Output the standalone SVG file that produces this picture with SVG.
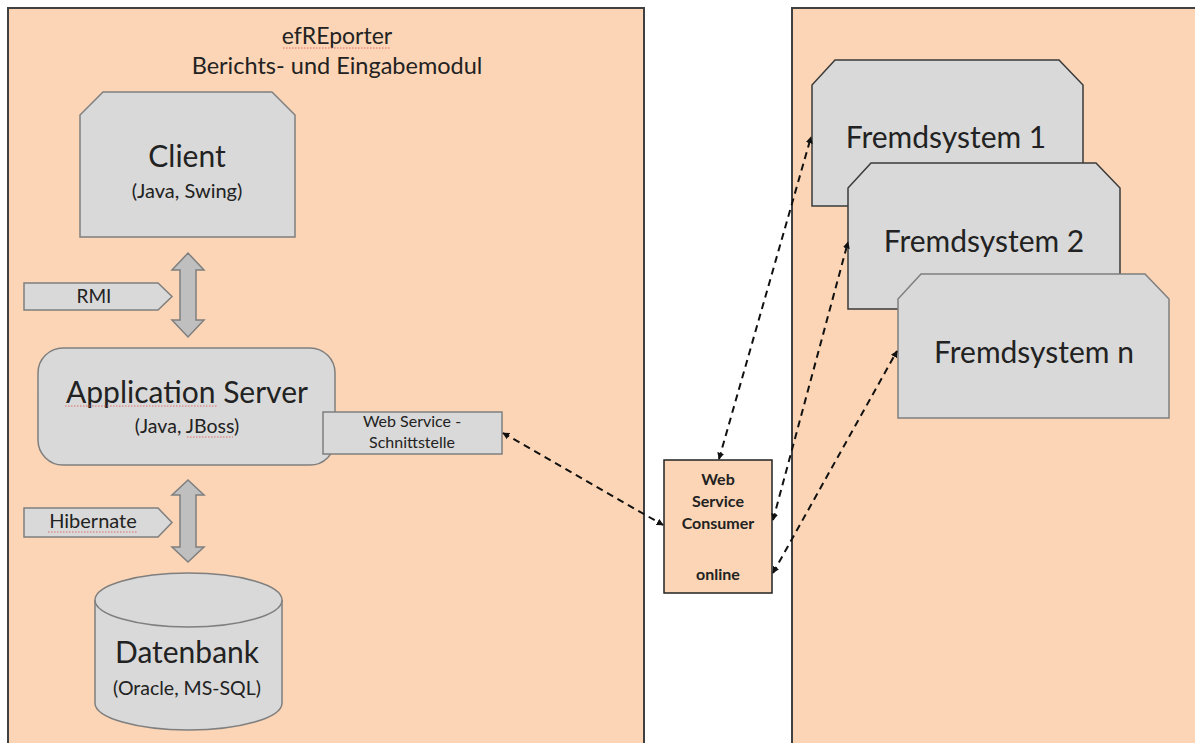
<svg xmlns="http://www.w3.org/2000/svg" width="1195" height="743" viewBox="0 0 1195 743">
<defs>
<style>
.panel{fill:#fbd5b5;stroke:#404040;stroke-width:2}
.node{fill:#d9d9d9;stroke:#7f7f7f;stroke-width:1.5}
.dark{stroke:#3a3a3a}
.t{font-family:Lato,"Liberation Sans",sans-serif;fill:#222222;text-anchor:middle}
.b{font-weight:bold}
.conn{fill:none;stroke:#111;stroke-width:2;stroke-dasharray:7,5}
.dbl{fill:#bfbfbf;stroke:#7f7f7f;stroke-width:1.5}
.sq{fill:none;stroke:#e05050;stroke-width:0.8;stroke-dasharray:1.5,1.5}
</style>
<marker id="ah" viewBox="0 0 10 10" refX="9" refY="5" markerWidth="7" markerHeight="7" orient="auto-start-reverse" markerUnits="userSpaceOnUse">
<path d="M0,0 L10,5 L0,10 Z" fill="#111"/>
</marker>
</defs>
<rect width="1195" height="743" fill="#ffffff"/>
<g id="panel-left">
<rect class="panel" x="8" y="8" width="636" height="745"/>
<text class="t" x="337" y="44" font-size="23">efREporter</text>
<path class="sq" d="M283,48 L391,48"/>
<text class="t" x="337" y="74" font-size="23.5">Berichts- und Eingabemodul</text>
</g>
<g id="panel-right">
<rect class="panel" x="792" y="8" width="420" height="745"/>
</g>
<g id="client">
<path class="node" d="M103,92 L272,92 L295,115 L295,237 L80,237 L80,115 Z"/>
<text class="t" x="187" y="167" font-size="30">Client</text>
<text class="t" x="187" y="198" font-size="20">(Java, Swing)</text>
</g>
<g id="rmi">
<path class="node" d="M24,283 L158,283 L172,296.5 L158,310 L24,310 Z"/>
<text class="t" x="94" y="303" font-size="19">RMI</text>
</g>
<g id="appserver">
<rect class="node" x="38" y="348" width="297" height="117" rx="25" ry="25"/>
<text class="t" x="187" y="403" font-size="30">Application Server</text>
<path class="sq" d="M65,406 L218,406"/>
<text class="t" x="187" y="433" font-size="19.5">(Java, JBoss)</text>
<path class="sq" d="M187,437 L233,437"/>
</g>
<g id="ws-schnittstelle">
<rect class="node" x="323" y="412" width="179" height="42"/>
<text class="t" x="412" y="427" font-size="16">Web Service -</text>
<text class="t" x="412" y="448" font-size="16">Schnittstelle</text>
</g>
<g id="hibernate">
<path class="node" d="M24,508 L158,508 L172,522.5 L158,537 L24,537 Z"/>
<text class="t" x="93" y="528" font-size="20">Hibernate</text>
<path class="sq" d="M48,532 L138,532"/>
</g>
<g id="datenbank">
<path class="node" d="M95,600 L95,703 A93.5,27 0 0 0 282,703 L282,600"/>
<ellipse class="node" cx="188.5" cy="600" rx="93.5" ry="27"/>
<text class="t" x="187" y="663" font-size="30">Datenbank</text>
<text class="t" x="187" y="695" font-size="19.5">(Oracle, MS-SQL)</text>
</g>
<g id="ws-consumer">
<rect x="664" y="460" width="108" height="133" fill="#fbd5b5" stroke="#222" stroke-width="1.5"/>
<text class="t b" x="718" y="485" font-size="16">Web</text>
<text class="t b" x="718" y="507" font-size="16">Service</text>
<text class="t b" x="718" y="529" font-size="16">Consumer</text>
<text class="t b" x="718" y="580" font-size="16">online</text>
</g>
<g id="fremdsystem-1">
<path class="node dark" d="M835,60 L1059,60 L1083,85 L1083,206 L812,206 L812,85 Z"/>
<text class="t" x="946" y="148" font-size="30">Fremdsystem 1</text>
</g>
<g id="fremdsystem-2">
<path class="node dark" d="M871,163 L1096,163 L1120,188 L1120,309 L848,309 L848,188 Z"/>
<text class="t" x="984" y="252" font-size="30">Fremdsystem 2</text>
</g>
<g id="fremdsystem-n">
<path class="node" d="M921,274 L1145,274 L1169,299 L1169,418 L898,418 L898,299 Z"/>
<text class="t" x="1034" y="363" font-size="30">Fremdsystem n</text>
</g>
<g id="connectors">
<path class="dbl" d="M188,253 L204,270 L196,270 L196,320 L204,320 L188,337 L172,320 L180,320 L180,270 L172,270 Z"/>
<path class="dbl" d="M188,480 L204,495 L196,495 L196,547 L204,547 L188,562 L172,547 L180,547 L180,495 L172,495 Z"/>
<path class="conn" d="M503,433 L663,525" marker-start="url(#ah)" marker-end="url(#ah)"/>
<path class="conn" d="M719,459 L811,137" marker-start="url(#ah)" marker-end="url(#ah)"/>
<path class="conn" d="M773,520 L848,242" marker-start="url(#ah)" marker-end="url(#ah)"/>
<path class="conn" d="M773,573 L897,351" marker-start="url(#ah)" marker-end="url(#ah)"/>
</g>
</svg>
